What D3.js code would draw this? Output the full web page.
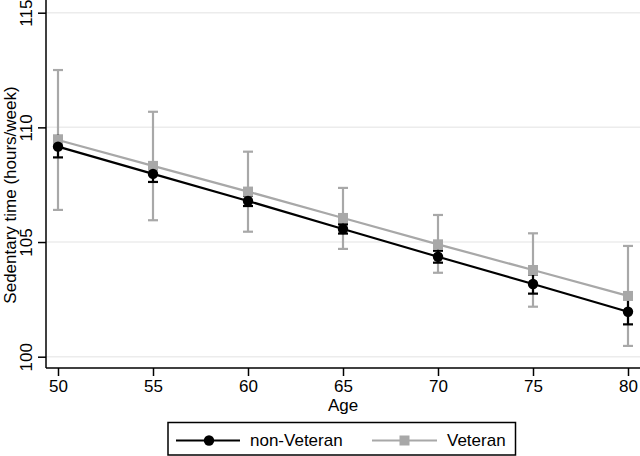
<!DOCTYPE html>
<html><head><meta charset="utf-8">
<script src="https://cdn.jsdelivr.net/npm/d3@7"></script>
<style>body{margin:0;background:#fff}svg{display:block}text{font-family:"Liberation Sans",Arial,sans-serif}</style>
</head><body>
<script>
const ages = [50, 55, 60, 65, 70, 75, 80];
const nonVet = [109.16, 107.97, 106.79, 105.57, 104.36, 103.17, 101.96];
const nonVetLo = [108.69, 107.62, 106.57, 105.37, 104.10, 102.75, 101.41];
const nonVetHi = [109.63, 108.32, 107.01, 105.77, 104.62, 103.59, 102.51];
const vet = [109.45, 108.32, 107.20, 106.05, 104.90, 103.78, 102.65];
const vetLo = [106.40, 105.95, 105.45, 104.70, 103.66, 102.18, 100.47];
const vetHi = [112.50, 110.68, 108.94, 107.36, 106.18, 105.38, 104.83];
const yTicks = [100, 105, 110, 115];
const xTicks = [50, 55, 60, 65, 70, 75, 80];
const seriesNames = ["non-Veteran", "Veteran"];

const W = 640, H = 456;
const FS = 17;
const svg = d3.select("body").append("svg").attr("width", W).attr("height", H);
const x = d3.scaleLinear().domain([50, 80]).range([58, 628]);
const y = d3.scaleLinear().domain([100, 115]).range([356.7, 12.7]);
const left = 46, right = 640, bottom = 368;
const black = "#000", gray = "#a8a8a8";

// gridlines
svg.append("g").selectAll("line").data(yTicks).join("line")
  .attr("x1", left).attr("x2", right).attr("y1", d => y(d)).attr("y2", d => y(d))
  .attr("stroke", "#ececec").attr("stroke-width", 1.5);

// axes
const yAxis = svg.append("g").attr("transform", `translate(${left},0)`)
  .call(d3.axisLeft(y).tickValues(yTicks).tickSize(8).tickPadding(4));
yAxis.select(".domain").attr("d", `M0,0V${bottom}`).attr("stroke-width", 1.5);
yAxis.selectAll(".tick line").attr("stroke-width", 1.5);
yAxis.selectAll(".tick text").attr("font-size", FS).attr("fill", "#000")
  .attr("transform", "rotate(-90)").attr("x", 0).attr("y", -14).attr("dy", null)
  .attr("text-anchor", "middle");

const xAxis = svg.append("g").attr("transform", `translate(0,${bottom})`)
  .call(d3.axisBottom(x).tickValues(xTicks).tickSize(8).tickPadding(4));
xAxis.select(".domain").attr("d", `M${left},0H${right}`).attr("stroke-width", 1.5);
xAxis.selectAll(".tick line").attr("stroke-width", 1.5);
xAxis.selectAll(".tick text").attr("font-size", FS).attr("fill", "#000")
  .attr("y", 24).attr("dy", null);

svg.append("text").attr("x", 343).attr("y", 411).attr("text-anchor", "middle")
  .attr("font-size", FS).text("Age");
svg.append("text").attr("transform", `translate(16,195) rotate(-90)`)
  .attr("text-anchor", "middle").attr("font-size", FS).text("Sedentary time (hours/week)");

function ci(lo, hi, color) {
  const g = svg.append("g").attr("stroke", color).attr("stroke-width", 2.2);
  ages.forEach((a, i) => {
    g.append("line").attr("x1", x(a)).attr("x2", x(a)).attr("y1", y(lo[i])).attr("y2", y(hi[i]));
    [lo[i], hi[i]].forEach(v => g.append("line").attr("x1", x(a) - 5).attr("x2", x(a) + 5)
      .attr("y1", y(v)).attr("y2", y(v)));
  });
}
ci(vetLo, vetHi, gray);
ci(nonVetLo, nonVetHi, black);

const line = d3.line().x((d, i) => x(ages[i])).y(d => y(d));
svg.append("path").datum(vet).attr("d", line).attr("fill", "none").attr("stroke", gray).attr("stroke-width", 2.2);
svg.append("g").selectAll("rect").data(vet).join("rect")
  .attr("x", (d, i) => x(ages[i]) - 5).attr("y", d => y(d) - 5).attr("width", 10).attr("height", 10)
  .attr("fill", gray);
svg.append("path").datum(nonVet).attr("d", line).attr("fill", "none").attr("stroke", black).attr("stroke-width", 2.2);
svg.append("g").selectAll("circle").data(nonVet).join("circle")
  .attr("cx", (d, i) => x(ages[i])).attr("cy", d => y(d)).attr("r", 5.2).attr("fill", black);

// legend
const lg = svg.append("g");
const ly = 440.5;
lg.append("rect").attr("x", 168).attr("y", 422.5).attr("width", 347.5).attr("height", 32.5)
  .attr("fill", "#fff").attr("stroke", "#000").attr("stroke-width", 1.5);
lg.append("line").attr("x1", 176).attr("x2", 240).attr("y1", ly).attr("y2", ly).attr("stroke", black).attr("stroke-width", 2.2);
lg.append("circle").attr("cx", 209).attr("cy", ly).attr("r", 5.2).attr("fill", black);
lg.append("text").attr("x", 250).attr("y", 446).attr("font-size", FS).text(seriesNames[0]);
lg.append("line").attr("x1", 372).attr("x2", 437).attr("y1", ly).attr("y2", ly).attr("stroke", gray).attr("stroke-width", 2.2);
lg.append("rect").attr("x", 399.5).attr("y", ly - 5).attr("width", 10).attr("height", 10).attr("fill", gray);
lg.append("text").attr("x", 447).attr("y", 446).attr("font-size", FS).text(seriesNames[1]);
</script>
</body></html>
